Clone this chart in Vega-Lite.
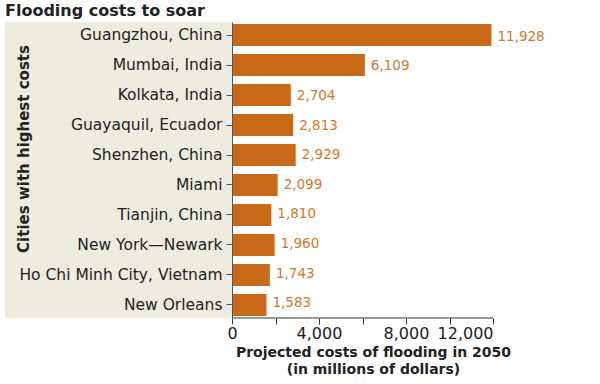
{
  "$schema": "https://vega.github.io/schema/vega-lite/v6.json",
  "width": 488,
  "height": 296,
  "padding": {"left": 5, "top": 3, "right": 5, "bottom": 5},
  "background": "white",
  "title": {
    "text": "Flooding costs to soar",
    "anchor": "start",
    "fontSize": 16,
    "fontWeight": "bold",
    "font": "DejaVu Sans",
    "color": "#222222",
    "offset": 3
  },
  "data": {
    "values": [
      {"city": "Guangzhou, China", "cost": 11928},
      {"city": "Mumbai, India", "cost": 6109},
      {"city": "Kolkata, India", "cost": 2704},
      {"city": "Guayaquil, Ecuador", "cost": 2813},
      {"city": "Shenzhen, China", "cost": 2929},
      {"city": "Miami", "cost": 2099},
      {"city": "Tianjin, China", "cost": 1810},
      {"city": "New York—Newark", "cost": 1960},
      {"city": "Ho Chi Minh City, Vietnam", "cost": 1743},
      {"city": "New Orleans", "cost": 1583}
    ]
  },
  "resolve": {"scale": {"y": "independent"}},
  "layer": [
    {
      "data": {"values": [{"x0": -10437, "x1": 0}]},
      "mark": {"type": "rect", "color": "#eeebe1"},
      "encoding": {
        "x": {"field": "x0", "type": "quantitative", "scale": {"domain": [-10437, 12000], "nice": false, "zero": false}},
        "x2": {"field": "x1"}
      }
    },
    {
      "mark": {"type": "bar", "color": "#c96a1b"},
      "encoding": {
        "y": {
          "field": "city",
          "type": "nominal",
          "sort": null,
          "scale": {"paddingInner": 0.267, "paddingOuter": 0.067},
          "axis": {
            "offset": -227,
            "zindex": 1,
            "title": "Cities with highest costs",
            "titleFontSize": 15,
            "titleFontWeight": "bold",
            "titleFont": "DejaVu Sans",
            "titleColor": "#222222",
            "titleAngle": 270,
            "titleBaseline": "alphabetic",
            "titleAlign": "center",
            "titleX": -204,
            "titleY": 126.5,
            "labelFontSize": 15.5,
            "labelFont": "DejaVu Sans",
            "labelColor": "#222222",
            "labelPadding": 4,
            "tickSize": 6,
            "tickColor": "#555555",
            "domainColor": "#555555",
            "labelLimit": 300
          }
        },
        "x": {
          "field": "cost",
          "type": "quantitative",
          "axis": {
            "values": [0, 2000, 4000, 6000, 8000, 10000, 12000],
            "labelExpr": "datum.value % 4000 == 0 ? format(datum.value, ',') : ''",
            "domain": false,
            "grid": false,
            "tickSize": 6,
            "tickColor": "#333333",
            "labelFontSize": 16,
            "labelFont": "DejaVu Sans",
            "labelColor": "#222222",
            "labelPadding": 1,
            "title": ["Projected costs of flooding in 2050", "(in millions of dollars)"],
            "titleFontSize": 14,
            "titleFontWeight": "bold",
            "titleFont": "DejaVu Sans",
            "titleColor": "#222222",
            "titleLineHeight": 17,
            "titleAlign": "center",
            "titleBaseline": "top",
            "titleX": 368,
            "titleY": 27
          }
        }
      }
    },
    {
      "data": {"values": [{"a": 0, "b": 12000, "yy": 0}]},
      "mark": {"type": "rule", "color": "#333333", "strokeWidth": 1},
      "encoding": {
        "x": {"field": "a", "type": "quantitative"},
        "x2": {"field": "b"},
        "y": {"field": "yy", "type": "quantitative", "scale": {"domain": [0, 1]}, "axis": null}
      }
    },
    {
      "mark": {"type": "text", "align": "left", "baseline": "middle", "dx": 6, "fontSize": 13.5, "font": "DejaVu Sans", "color": "#d2782c"},
      "encoding": {
        "y": {"field": "city", "type": "nominal", "sort": null, "axis": null},
        "x": {"field": "cost", "type": "quantitative"},
        "text": {"field": "cost", "type": "quantitative", "format": ","}
      }
    }
  ],
  "config": {"view": {"stroke": null}}
}
